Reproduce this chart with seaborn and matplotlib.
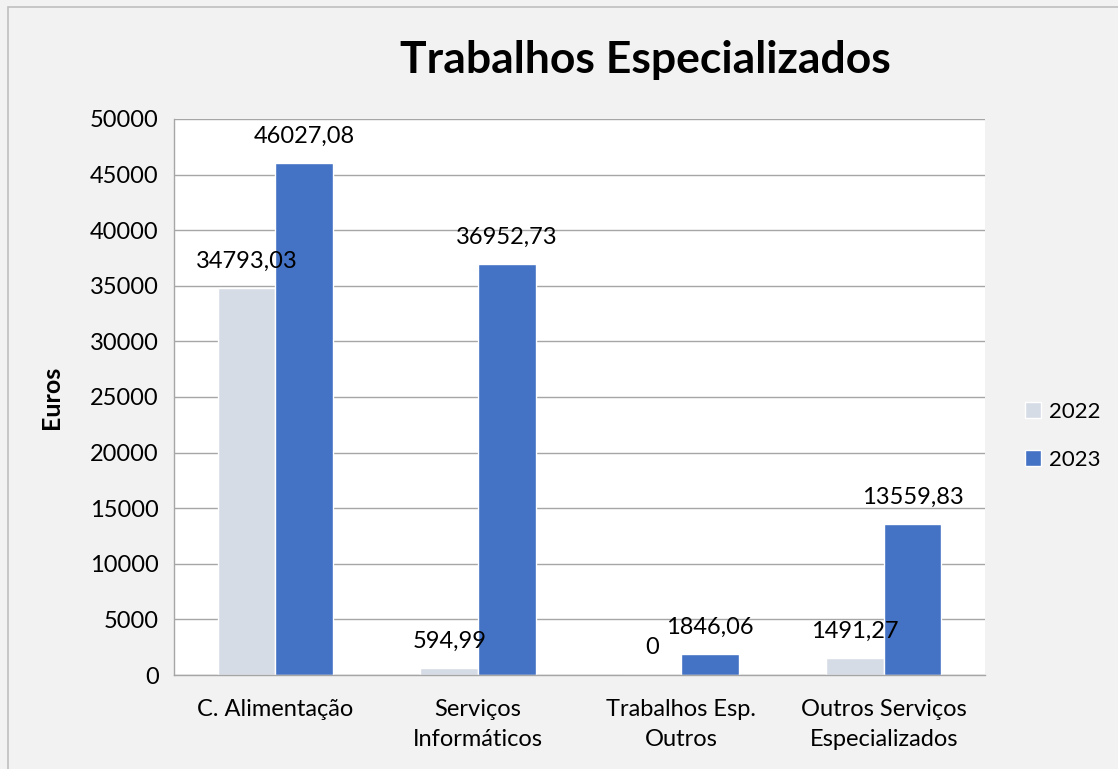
import matplotlib
matplotlib.use("Agg")
import matplotlib.pyplot as plt
from matplotlib.patches import Rectangle
from matplotlib.ticker import FixedLocator
import numpy as np
import pandas as pd
import seaborn as sns

categorias = ["C. Alimentação", "Serviços\nInformáticos", "Trabalhos Esp.\nOutros",
              "Outros Serviços\nEspecializados"]
anos = ["2022", "2023"]
valores_2022 = [34793.03, 594.99, 0.0, 1491.27]
valores_2023 = [46027.08, 36952.73, 1846.06, 13559.83]
cores = {"2022": "#D6DCE5", "2023": "#4472C4"}

df = pd.DataFrame({
    "Categoria": categorias * 2,
    "Ano": ["2022"] * 4 + ["2023"] * 4,
    "Euros": valores_2022 + valores_2023,
})

sns.set_style("white")
plt.rcParams["font.family"] = ["Lato", "DejaVu Sans"]
plt.rcParams["text.color"] = "black"
plt.rcParams["xtick.color"] = "black"
plt.rcParams["ytick.color"] = "black"

fig = plt.figure(figsize=(11.18, 7.69), dpi=100, facecolor="#F2F2F2")
ax = fig.add_axes([174 / 1118, 1 - 675 / 769, (985 - 174) / 1118, (675 - 119) / 769])
ax.set_facecolor("white")

sns.barplot(data=df, x="Categoria", y="Euros", hue="Ano", hue_order=anos,
            palette=cores, width=0.57, saturation=1, ax=ax, legend=True)

# rótulos de valor
for cont in ax.containers:
    for barra in cont:
        h = barra.get_height()
        txt = ("%.2f" % h).replace(".", ",") if h != 0 else "0"
        ax.annotate(txt, (barra.get_x() + barra.get_width() / 2, h),
                    xytext=(0, 12), textcoords="offset points",
                    ha="center", va="bottom", fontsize=17, color="black")

ax.set_ylim(0, 50000)
ax.set_xlim(-0.5, 3.5)
ax.set_yticks(np.arange(0, 50001, 5000))
ax.yaxis.grid(True, color="#A6A6A6", linewidth=1)
ax.set_axisbelow(True)
ax.tick_params(axis="y", labelsize=17, length=6, color="#A6A6A6", labelcolor="black",
               direction="out", pad=5)
ax.set_xticks(range(len(categorias)))
ax.set_xticklabels(categorias, linespacing=1.55)
ax.tick_params(axis="x", which="major", labelsize=17, length=0, pad=17, labelcolor="black")
ax.xaxis.set_minor_locator(FixedLocator([-0.5, 0.5, 1.5, 2.5, 3.5]))
ax.tick_params(axis="x", which="minor", length=7, color="#A6A6A6", direction="out")
ax.set_xlabel("")
ax.set_ylabel("Euros", fontsize=18, fontweight="bold", labelpad=19, color="black")

for lado in ["top", "right"]:
    ax.spines[lado].set_visible(False)
for lado in ["left", "bottom"]:
    ax.spines[lado].set_color("#A6A6A6")
    ax.spines[lado].set_linewidth(1)

leg = ax.legend(loc="center left", bbox_to_anchor=(1.025, 0.43), frameon=False,
                fontsize=16, handlelength=0.7, handleheight=0.7, handletextpad=0.35,
                labelspacing=1.25)

fig.text(645 / 1118, 1 - 60 / 769, "Trabalhos Especializados", ha="center", va="center",
         fontsize=32, fontweight="bold", color="black")

fig.patches.append(Rectangle((8 / 1118, -0.1), 1.2, 1 - 7 / 769 + 0.1,
                             transform=fig.transFigure, fill=False,
                             edgecolor="#BFBFBF", linewidth=1.2))

fig.savefig("out.png", dpi=100, facecolor=fig.get_facecolor())
